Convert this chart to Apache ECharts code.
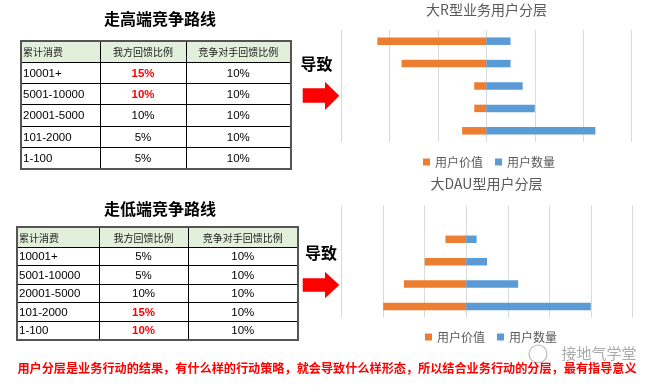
<!DOCTYPE html>
<html>
<head>
<meta charset="utf-8">
<script src="https://cdn.jsdelivr.net/npm/echarts@6/dist/echarts.min.js"></script>
<style>
  body { margin: 0; background: #fff; }
  #wrap { position: relative; width: 658px; height: 385px; overflow: hidden; }
  #chart { position: absolute; left: 0; top: 0; width: 658px; height: 385px; }
  .ttl { position: absolute; width: 300px; text-align: center; font: bold 16px "Noto Sans CJK SC", sans-serif; color: #000; line-height: 20px; }
  table { position: absolute; border-collapse: collapse; table-layout: fixed; border: 2px solid #555; z-index: 2; background: #fff; }
  td { border: 1px solid #000; padding: 0; font: 11.5px "Liberation Sans", Arial, sans-serif; color: #000; text-align: center; white-space: nowrap; overflow: hidden; }
  td.first { text-align: left; padding-left: 1px; }
  tr.head td { background: #e2efda; font: 10px "Noto Sans CJK SC", sans-serif; color: #222; }
  td.red { color: #ff0000; font-weight: bold; }
</style>
</head>
<body>
<div id="wrap">
  <div id="chart"></div>
  <div class="ttl" style="left:10px;top:8px">走高端竞争路线</div>
  <div class="ttl" style="left:10px;top:198px">走低端竞争路线</div>
  <table id="t1" style="left:20px;top:40px;width:270px;height:129px"></table>
  <table id="t2" style="left:16px;top:226px;width:281px;height:114px"></table>
</div>
<script>
// table rows, top to bottom
var headers = ['累计消费', '我方回馈比例', '竞争对手回馈比例']
var tiers = ['10001+', '5001-10000', '20001-5000', '101-2000', '1-100']
var highOurs = ['15%', '10%', '10%', '5%', '5%']
var highRival = ['10%', '10%', '10%', '10%', '10%']
var highRed = [true, true, false, false, false]
var lowOurs = ['5%', '5%', '10%', '15%', '10%']
var lowRival = ['10%', '10%', '10%', '10%', '10%']
var lowRed = [false, false, false, true, true]

// chart values, same tier order (top to bottom)
var rValue = [45, 35, 5, 5, 10]
var rCount = [10, 10, 15, 20, 45]
var dauValue = [null, 10, 20, 30, 40]
var dauCount = [null, 5, 10, 25, 60]

function buildTable(id, ours, rival, red, cols, headH, rowH) {
  var t = document.getElementById(id)
  var html = '<colgroup>' + cols.map(function (w) { return '<col style="width:' + w + 'px">' }).join('') + '</colgroup>'
  html += '<tr class="head" style="height:' + headH + 'px">' +
    '<td class="first">' + headers[0] + '</td><td>' + headers[1] + '</td><td>' + headers[2] + '</td></tr>'
  tiers.forEach(function (tier, i) {
    html += '<tr style="height:' + rowH + 'px"><td class="first">' + tier + '</td>' +
      '<td' + (red[i] ? ' class="red"' : '') + '>' + ours[i] + '</td><td>' + rival[i] + '</td></tr>'
  })
  t.innerHTML = html
}
buildTable('t1', highOurs, highRival, highRed, [79, 86, 105], 21, 21.4)
buildTable('t2', lowOurs, lowRival, lowRed, [82, 89, 110], 20, 18.6)

var cats = tiers.slice().reverse()
function neg(arr) {
  return arr.slice().reverse().map(function (v) { return v == null ? null : -v })
}
function pos(arr) {
  return arr.slice().reverse()
}

var orange = '#ED7D31'
var blue = '#5B9BD5'
var grey = '#595959'
var cjk = '"Noto Sans CJK SC", sans-serif'

function valueAxis(idx, min, max) {
  return {
    type: 'value', gridIndex: idx, min: min, max: max, interval: 20,
    axisLabel: { show: false }, axisTick: { show: false }, axisLine: { show: false },
    splitLine: { lineStyle: { color: '#d9d9d9', width: 1 } }
  }
}
function catAxis(idx) {
  return {
    type: 'category', gridIndex: idx, data: cats,
    axisLabel: { show: false }, axisTick: { show: false }, axisLine: { show: false }
  }
}
function legend(left, top) {
  return {
    left: left, top: top, padding: 0, itemWidth: 7, itemHeight: 7, itemGap: 12, icon: 'rect',
    data: ['用户价值', '用户数量'],
    textStyle: { fontSize: 12, color: grey, fontFamily: cjk, lineHeight: 14 }
  }
}
function bar(name, color, data, idx, stack) {
  return {
    name: name, type: 'bar', stack: stack, xAxisIndex: idx, yAxisIndex: idx,
    data: data, barWidth: 7.5, itemStyle: { color: color }
  }
}

var chart = echarts.init(document.getElementById('chart'))
chart.setOption({
  animation: false,
  grid: [
    { left: 341, top: 30, width: 290.7, height: 112 },
    { left: 341.7, top: 205.7, width: 290.6, height: 112 }
  ],
  xAxis: [valueAxis(0, -60, 60), valueAxis(1, -60, 80)],
  yAxis: [catAxis(0), catAxis(1)],
  legend: [legend(423, 155), legend(425, 330)],
  series: [
    bar('用户价值', orange, neg(rValue), 0, 'r'),
    bar('用户数量', blue, pos(rCount), 0, 'r'),
    bar('用户价值', orange, neg(dauValue), 1, 'd'),
    bar('用户数量', blue, pos(dauCount), 1, 'd')
  ],
  graphic: [
    { type: 'text', x: 486.5, y: 9.5, style: { text: '大R型业务用户分层', align: 'center', verticalAlign: 'middle', font: '14px ' + cjk, fill: grey } },
    { type: 'text', x: 486.5, y: 184, style: { text: '大DAU型用户分层', align: 'center', verticalAlign: 'middle', font: '14px ' + cjk, fill: grey } },
    { type: 'text', x: 316.5, y: 64, style: { text: '导致', align: 'center', verticalAlign: 'middle', font: 'bold 16px ' + cjk, fill: '#000' } },
    { type: 'text', x: 321, y: 253, style: { text: '导致', align: 'center', verticalAlign: 'middle', font: 'bold 16px ' + cjk, fill: '#000' } },
    { type: 'polygon', shape: { points: [[302.7, 88.3], [325, 88.3], [325, 81.7], [339.3, 95.8], [325, 110], [325, 102.7], [302.7, 102.7]] }, style: { fill: '#ff0000' } },
    { type: 'polygon', shape: { points: [[302.7, 278.3], [325, 278.3], [325, 271.7], [339.3, 285], [325, 298.3], [325, 291.7], [302.7, 291.7]] }, style: { fill: '#ff0000' } },
    { type: 'circle', shape: { cx: 538, cy: 354, r: 9 }, style: { fill: 'none', stroke: '#bbb', lineWidth: 1.2 } },
    { type: 'text', x: 599, y: 353.5, style: { text: '接地气学堂', align: 'center', verticalAlign: 'middle', font: '15px ' + cjk, fill: '#aaa', stroke: '#fff', lineWidth: 2 } },
    { type: 'text', x: 327, y: 368, z: 10, style: { text: '用户分层是业务行动的结果，有什么样的行动策略，就会导致什么样形态，所以结合业务行动的分层，最有指导意义', align: 'center', verticalAlign: 'middle', font: 'bold 12.15px ' + cjk, fill: '#ff0000' } }
  ]
})
</script>
</body>
</html>
